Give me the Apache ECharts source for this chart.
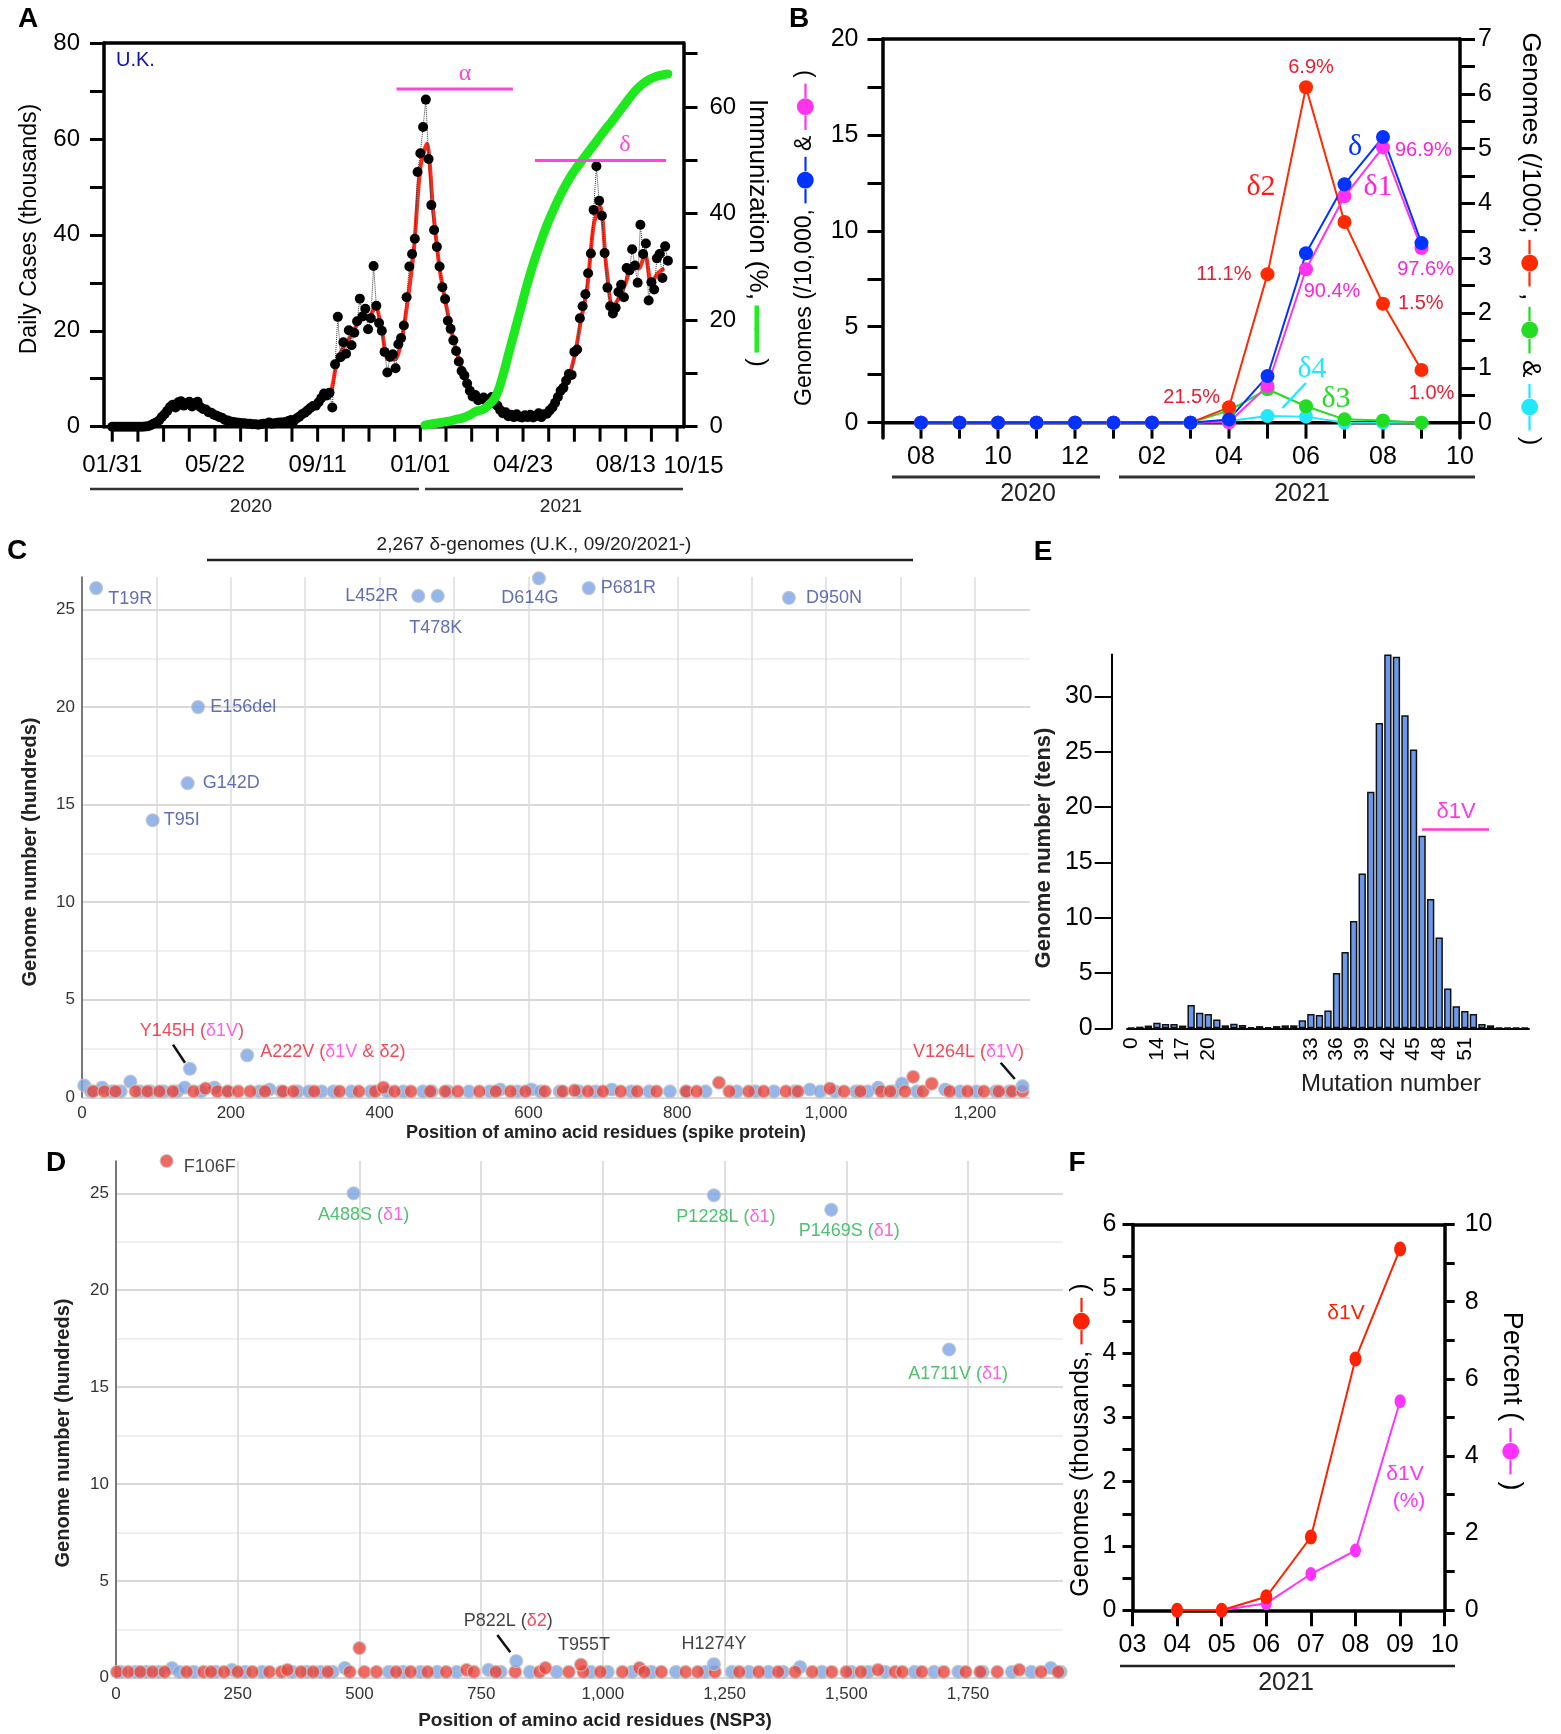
<!DOCTYPE html>
<html><head><meta charset="utf-8">
<script src="https://cdn.jsdelivr.net/npm/echarts@6/dist/echarts.min.js"></script>
<style>html,body{margin:0;padding:0;background:#fff}#c{width:1561px;height:1734px}</style>
</head><body><div id="c"></div>
<script>
// ================= DATA =================
// Panel A: U.K. daily cases (thousands), day index from 2020-01-31
const aDays = [0,3,6,9,12,15,18,21,24,27,30,33,36,39,42,45,48,51,54,57,60,63,66,69,72,75,78,81,84,87,90,93,96,99,102,105,108,111,114,117,120,123,126,129,132,135,138,141,144,147,150,153,156,159,162,165,168,171,174,177,180,183,186,189,192,195,198,201,204,207,210,213,216,219,222,225,228,231,234,237,240,243,246,249,252,255,258,261,264,267,270,273,276,279,282,285,288,291,294,297,300,303,306,309,312,315,318,321,324,327,330,333,336,339,342,345,348,351,354,357,360,363,366,369,372,375,378,381,384,387,390,393,396,399,402,405,408,411,414,417,420,423,426,429,432,435,438,441,444,447,450,453,456,459,462,465,468,471,474,477,480,483,486,489,492,495,498,501,504,507,510,513,516,519,522,525,528,531,534,537,540,543,546,549,552,555,558,561,564,567,570,573,576,579,582,585,588,591,594,597,600,603,606];
const aDailyCases = [
0,0,0,0,0,0,0,0,0,0,
0,0,0.05,0.1,0.3,0.6,0.9,1.3,2.0,2.6,
3.3,4.1,4.6,4.0,5.1,5.3,4.4,4.9,5.2,4.2,
4.9,5.2,4.1,3.7,3.6,3.0,2.9,2.5,2.3,2.0,
1.8,1.4,1.3,1.1,1.0,0.9,0.8,0.7,0.7,0.6,
0.6,0.5,0.5,0.4,0.5,0.6,0.6,0.9,0.6,0.7,
0.8,0.9,0.9,1.0,1.2,1.4,1.2,1.7,2.1,2.6,
2.9,3.4,3.9,4.3,4.4,5.1,6.0,6.9,6.5,7.1,
4.0,13.0,22.9,14.5,17.6,15.2,20.1,17.0,19.6,22.0,
26.7,23.0,24.6,20.3,22.6,33.5,25.2,21.6,20.0,15.6,
11.3,14.6,15.1,12.2,17.2,18.5,21.1,27.0,33.4,36.0,
39.2,53.1,57.0,62.5,68.2,55.8,46.2,41.0,37.5,33.4,
29.1,26.6,22.1,20.4,18.0,15.8,13.6,11.6,10.7,9.0,
7.5,6.3,6.6,5.5,5.8,6.1,5.3,5.6,6.2,4.8,
4.4,3.5,2.8,3.0,2.2,2.5,2.0,2.6,2.1,1.9,
2.4,2.0,2.5,1.9,2.2,2.8,2.0,2.6,2.7,3.4,
4.0,5.0,6.2,7.5,8.1,9.6,11.0,10.8,15.6,16.1,
22.6,25.1,27.6,32.0,36.1,45.2,54.3,47.1,44.0,36.2,
29.0,25.1,23.6,24.8,28.1,29.6,27.0,33.1,32.6,37.0,
33.6,30.0,42.1,36.0,38.2,26.3,30.1,28.6,35.1,36.0,
31.0,37.6,34.6];
const aAvgDays = [0,7,14,21,28,35,42,49,56,63,70,77,84,91,98,105,112,119,126,133,140,147,154,161,168,175,182,189,196,203,210,217,224,231,238,245,252,259,266,273,280,287,294,301,308,315,322,329,336,343,350,357,364,371,378,385,392,399,406,413,420,427,434,441,448,455,462,469,476,483,490,497,504,511,518,525,532,539,546,553,560,567,574,581,588,595,602];
const aAvgCases = [0,0,0,0,0,0,0.2,0.9,2.2,3.8, 4.6,4.8,4.8,4.6,3.8,3.0,2.4,1.9,1.3,1.0, 0.8,0.6,0.5,0.5,0.6,0.7,0.8,1.0,1.3,1.8, 2.8,3.8,4.5,6.3,7.0,13.5,16.5,18.5,21.0,23.5, 23.0,25.0,20.0,14.0,14.0,17.5,26.0,37.0,54.0,59.0, 45.0,33.0,25.5,19.0,14.0,10.5,7.5,6.0,5.6,5.5, 4.5,3.0,2.4,2.3,2.1,2.2,2.2,2.4,3.0,4.6, 7.2,10.0,14.5,22.0,29.0,42.0,46.0,33.0,25.0,27.0, 30.0,33.5,33.0,36.0,30.0,32.0,33.0];
const aImmDays = [341,348,355,362,369,376,383,390,397,404,411,418,425,432,439,446,453,460,467,474,481,488,495,502,509,516,523,530,537,544,551,558,565,572,579,586,593,600,606];
const aImmPct = [0.3,0.5,0.7,0.9,1.1,1.4,1.7,2.2,2.9,3.2,4.2,5.6,9.0,13.5,18.0,22.5,27.0,31.0,34.5,37.8,40.6,43.2,45.5,47.5,49.2,50.8,52.4,54.0,55.6,57.1,58.7,60.3,61.9,63.3,64.4,65.2,65.7,66.0,66.2];
const aTickDays = [0,28,56,84,112,140,168,196,224,252,280,308,336,364,392,420,448,476,504,532,560,588,616];
const aLabelDays = [0,112,224,336,448,560,623];
const aLabelText = ['01/31','05/22','09/11','01/01','04/23','08/13','10/15'];
const aVariantNames = ['α','δ'];
const aVariantStartDay = [310,461];
const aVariantEndDay = [437,604];
const aVariantLevel = [70.4,55.5];
const aYears = ['2020','2021'];

// Panel B: month index 0 = 2020-07
const bMonthIdx = [1,2,3,4,5,6,7,8,9,10,11,12,13,14];
const bDelta  = [0,0,0,0,0,0,0,0,0.17,2.43,8.83,12.43,14.89,9.36];
const bDelta1 = [0,0,0,0,0,0,0,0,0.02,1.91,8.0,11.8,14.35,9.1];
const bDelta2 = [0,0,0,0,0,0,0,0,0.28,2.71,6.12,3.66,2.17,0.96];
const bDelta3 = [0,0,0,0,0,0,0,0,0.22,0.61,0.30,0.06,0.04,0.0];
const bDelta4 = [0,0,0,0,0,0,0,0,0.03,0.12,0.11,0.0,0.0,0.0];
const bDelta2Pct = ['','','','','','','','','21.5%','11.1%','6.9%','','1.5%','1.0%'];
const bDelta1Pct = ['','','','','','','','','','','90.4%','','96.9%','97.6%'];
const bTickIdx = [1,2,3,4,5,6,7,8,9,10,11,12,13,14];
const bLabelIdx = [1,3,5,7,9,11,13,15];
const bLabelText = ['08','10','12','02','04','06','08','10'];

// Panel C: spike protein mutations
const cTitle = '2,267 δ-genomes (U.K., 09/20/2021-)';
const cLabelNames = ['T19R','T95I','G142D','Y145H','E156del','A222V','L452R','T478K','D614G','P681R','D950N','V1264L'];
const cLabelPositions = [19,95,142,145,156,222,452,478,614,681,950,1264];
const cLabelCounts = [26.1,14.2,16.1,1.46,20.0,2.15,25.7,25.7,26.6,26.1,25.6,0.57];
const cBlueBase = [[3,0.6],[12,0.3],[27,0.5],[40,0.3],[52,0.3],[65,0.8],[78,0.3],[92,0.3],[110,0.3],[128,0.3],[138,0.5],[160,0.3],[178,0.5],[196,0.3],[238,0.3],[252,0.4],[268,0.3],[290,0.3],[305,0.3],[322,0.3],[338,0.3],[362,0.3],[388,0.3],[410,0.3],[432,0.3],[458,0.3],[470,0.3],[492,0.3],[520,0.3],[548,0.3],[562,0.4],[585,0.3],[604,0.4],[616,0.3],[642,0.3],[668,0.3],[690,0.3],[712,0.4],[738,0.3],[762,0.3],[790,0.3],[812,0.3],[838,0.3],[880,0.3],[905,0.3],[930,0.3],[958,0.3],[978,0.4],[992,0.3],[1012,0.3],[1040,0.3],[1056,0.3],[1070,0.5],[1092,0.3],[1102,0.7],[1122,0.3],[1160,0.4],[1180,0.3],[1202,0.3],[1228,0.3],[1246,0.3]];
const cRedBase = [[15,0.3],[30,0.3],[45,0.3],[72,0.3],[88,0.3],[104,0.3],[122,0.3],[150,0.3],[166,0.45],[182,0.3],[196,0.3],[210,0.3],[226,0.3],[246,0.3],[270,0.3],[284,0.3],[312,0.3],[346,0.3],[372,0.3],[394,0.3],[405,0.5],[420,0.3],[442,0.3],[468,0.3],[488,0.3],[505,0.3],[534,0.3],[556,0.3],[576,0.3],[596,0.3],[622,0.3],[646,0.3],[662,0.35],[680,0.3],[700,0.3],[724,0.3],[746,0.3],[772,0.3],[812,0.3],[826,0.3],[856,0.75],[870,0.3],[896,0.3],[916,0.3],[946,0.3],[962,0.3],[1005,0.45],[1024,0.3],[1046,0.3],[1074,0.3],[1086,0.3],[1106,0.3],[1117,1.05],[1130,0.3],[1142,0.7],[1166,0.3],[1190,0.3],[1212,0.3],[1232,0.3],[1250,0.3],[1264,0.3]];
const cGridX = [0,100,200,300,400,500,600,700,800,900,1000,1100,1200];
const cLabelX = [0,200,400,600,800,1000,1200];

// Panel D: NSP3 mutations
const dLabelNames = ['F106F','A488S','P822L','T955T','P1228L','H1274Y','P1469S','A1711V'];
const dLabelPositions = [104,488,822,955,1228,1228,1469,1711];
const dLabelCounts = [26.67,25.0,0.86,0.67,24.9,0.7,24.15,16.94];
const dLabelKinds = ['red','blue','blue','red','blue','blue','blue','blue'];
const dBlueBase = [[10,0.3],[40,0.3],[62,0.3],[88,0.3],[115,0.5],[130,0.3],[160,0.3],[205,0.3],[238,0.4],[265,0.3],[300,0.3],[362,0.3],[392,0.3],[420,0.3],[445,0.3],[470,0.5],[560,0.3],[590,0.3],[625,0.3],[660,0.3],[700,0.3],[765,0.4],[790,0.3],[850,0.3],[905,0.3],[975,0.3],[1010,0.3],[1060,0.3],[1100,0.3],[1150,0.3],[1210,0.3],[1265,0.3],[1300,0.3],[1340,0.3],[1370,0.3],[1405,0.55],[1450,0.3],[1510,0.3],[1545,0.3],[1580,0.3],[1640,0.3],[1680,0.3],[1730,0.3],[1780,0.3],[1840,0.3],[1880,0.3],[1920,0.5],[1940,0.3]];
const dRedBase = [[2,0.3],[25,0.3],[50,0.3],[75,0.3],[100,0.3],[145,0.3],[180,0.3],[195,0.3],[222,0.3],[250,0.3],[280,0.3],[315,0.3],[340,0.3],[352,0.4],[380,0.3],[405,0.3],[435,0.3],[480,0.3],[500,1.53],[510,0.3],[535,0.3],[575,0.3],[605,0.3],[640,0.3],[678,0.3],[720,0.4],[735,0.3],[780,0.3],[820,0.3],[870,0.3],[882,0.5],[930,0.3],[960,0.3],[995,0.3],[1040,0.3],[1075,0.5],[1085,0.3],[1120,0.3],[1170,0.3],[1195,0.3],[1230,0.3],[1280,0.3],[1320,0.3],[1360,0.3],[1395,0.3],[1430,0.3],[1470,0.3],[1500,0.3],[1530,0.3],[1565,0.4],[1600,0.3],[1615,0.3],[1655,0.3],[1700,0.3],[1745,0.3],[1775,0.3],[1810,0.3],[1855,0.4],[1900,0.3],[1935,0.3]];
const dGridX = [0,250,500,750,1000,1250,1500,1750];
const cdGridY = [0,2.5,5,7.5,10,12.5,15,17.5,20,22.5,25];
const cdLabelY = [0,5,10,15,20,25];

// Panel E: mutation-number histogram (tens of genomes)
const eCategories = ['0','12','13','14','15','16','17','18','19','20','21','22','23','24','25','26','28','29','30','31','32','33','34','35','36','37','38','39','40','41','42','43','44','45','46','47','48','49','50','51','52','53','54','55','56','57','58'];
const eCounts = [0.05,0.15,0.25,0.5,0.4,0.4,0.25,2.1,1.4,1.3,0.8,0.27,0.42,0.3,0.1,0.2,0.1,0.2,0.27,0.27,0.72,1.3,1.2,1.6,5.0,6.9,9.7,14.0,21.4,27.6,33.8,33.6,28.3,25.2,17.4,11.7,8.2,3.6,2.0,1.56,1.3,0.4,0.27,0.05,0.05,0.05,0.05];
const eShownLabels = ['0','14','17','20','33','36','39','42','45','48','51'];
const eTicks = [0,5,10,15,20,25,30];

// Panel F: δ1V genomes (thousands) and percent
const fMonths = [4,5,6,7,8,9];
const fGenomesK = [0,0,0.21,1.14,3.91,5.62];
const fPercent = [0,0,0.18,0.94,1.55,5.42];

// ================= STYLE / HELPERS =================
const FF = "'Liberation Sans', Arial, sans-serif";
const SERIF = "'Liberation Serif', 'Times New Roman', serif";
const fnt = (s, w) => (w ? w + ' ' : '') + s + 'px ' + FF;
const zip = (xs, ys) => xs.map((x, i) => [x, ys[i]]);
const BLK = '#000';
const RED = '#ff2a00', BLUE = '#0033ff', MAG = '#ff33ee', GRN = '#22dd22', CYAN = '#22e8ff';
const DOT_BLUE = '#7ba4e6', DOT_RED = '#e8443a';
const LBL_BLUE = '#3a4ba0', LBL_RED = '#ee1c2e', LBL_MAG = '#ff38dd', LBL_GRN = '#1fb34a';

function frameAxis(w) { return {show: true, onZero: false, lineStyle: {color: BLK, width: w}}; }
const aLabelMap = {}; aLabelDays.forEach((d, i) => aLabelMap[d] = aLabelText[i]);
const bLabelMap = {}; bLabelIdx.forEach((d, i) => bLabelMap[d] = bLabelText[i]);
const fmtComma = v => Number(v).toLocaleString('en-US');

const bD2Place = {9: {position: 'left', distance: 2, offset: [0, -10]}, 10: {position: 'left', distance: 9}, 11: {position: 'top', distance: 3, offset: [5, 0]}, 13: {position: 'right', distance: 8}, 14: {position: 'bottom', distance: 6, offset: [10, 0]}};
const bD1Place = {11: {position: 'bottom', distance: 5, offset: [26, 0]}, 13: {position: 'right', distance: 5, offset: [0, 3]}, 14: {position: 'bottom', distance: 4, offset: [4, 0]}};

const cPlace = {
  T19R: {position: 'right', distance: 5, offset: [0, 11]},
  T95I: {position: 'right', distance: 4},
  G142D: {position: 'right', distance: 8},
  Y145H: {position: 'inside', offset: [2, -38]},
  E156del: {position: 'right', distance: 5},
  A222V: {position: 'right', distance: 6, offset: [0, -3]},
  L452R: {position: 'left', distance: 13},
  T478K: {position: 'inside', offset: [-2, 32]},
  D614G: {position: 'inside', offset: [-9, 20]},
  P681R: {position: 'right', distance: 5},
  D950N: {position: 'right', distance: 10},
  V1264L: {position: 'inside', offset: [-54, -34]}
};
const cText = {
  Y145H: '{r|Y145H (}{m|δ1V}{r|)}',
  A222V: '{r|A222V (}{m|δ1V}{r| & δ2)}',
  V1264L: '{r|V1264L (}{m|δ1V}{r|)}'
};
const dPlace = {
  F106F: {position: 'right', distance: 10, offset: [0, 6]},
  A488S: {position: 'inside', offset: [10, 22]},
  P822L: {position: 'inside', offset: [-8, -40]},
  T955T: {position: 'inside', offset: [3, -20]},
  P1228L: {position: 'inside', offset: [12, 22]},
  H1274Y: {position: 'inside', offset: [0, -20]},
  P1469S: {position: 'inside', offset: [18, 21]},
  A1711V: {position: 'inside', offset: [9, 25]}
};
const dText = {
  F106F: '{k|F106F}', A488S: '{g|A488S (}{m|δ1}{g|)}', P822L: '{k|P822L (}{r|δ2}{k|)}',
  T955T: '{k|T955T}', P1228L: '{g|P1228L (}{m|δ1}{g|)}', H1274Y: '{k|H1274Y}',
  P1469S: '{g|P1469S (}{m|δ1}{g|)}', A1711V: '{g|A1711V (}{m|δ1}{g|)}'
};
const labRich = {
  b: {color: LBL_BLUE, fontSize: 18, fontFamily: FF},
  r: {color: LBL_RED, fontSize: 18, fontFamily: FF},
  m: {color: LBL_MAG, fontSize: 18, fontFamily: FF},
  g: {color: LBL_GRN, fontSize: 18, fontFamily: FF},
  k: {color: '#111', fontSize: 18, fontFamily: FF}
};

// ================= SERIES =================
const series = [];
// A
series.push({type: 'line', xAxisIndex: 0, yAxisIndex: 0, data: zip(aAvgDays, aAvgCases), smooth: 0.3, showSymbol: false, lineStyle: {color: '#ff2a1a', width: 4}, z: 2, silent: true});
series.push({type: 'line', xAxisIndex: 0, yAxisIndex: 0, data: zip(aDays, aDailyCases), symbol: 'circle', symbolSize: 10, itemStyle: {color: '#000'}, lineStyle: {color: '#333', width: 1, type: 'dotted'}, z: 3, silent: true});
series.push({type: 'line', xAxisIndex: 0, yAxisIndex: 1, data: zip(aImmDays, aImmPct), smooth: true, showSymbol: false, lineStyle: {color: '#1ee81e', width: 9, cap: 'round'}, z: 4, silent: true});
aVariantNames.forEach((n, i) => {
  series.push({type: 'line', name: n, xAxisIndex: 0, yAxisIndex: 0, data: [[aVariantStartDay[i], aVariantLevel[i]], [aVariantEndDay[i], aVariantLevel[i]]], showSymbol: false, lineStyle: {color: '#ff44dd', width: 3}, z: 5, silent: true});
});
// B
function bSeries(vals, color, yIdx, pct, place, lblColor) {
  return {type: 'line', xAxisIndex: 2, yAxisIndex: yIdx, symbol: 'circle', symbolSize: 14,
    itemStyle: {color: color}, lineStyle: {color: color, width: 2},
    label: {fontSize: 20, fontFamily: FF, color: lblColor || color},
    data: vals.map((v, i) => {
      const item = {value: [bMonthIdx[i], v]};
      if (pct && pct[i]) item.label = Object.assign({show: true, formatter: pct[i]}, place[bMonthIdx[i]]);
      return item;
    }), silent: true, z: 3};
}
series.push(bSeries(bDelta4, CYAN, 3));
series.push(bSeries(bDelta3, GRN, 3));
series.push(bSeries(bDelta2, RED, 3, bDelta2Pct, bD2Place, LBL_RED));
series.push(bSeries(bDelta1, MAG, 2, bDelta1Pct, bD1Place, '#ff22dd'));
series.push(bSeries(bDelta, BLUE, 2));
// C
const dotStyle = c => ({color: c, borderColor: '#c4c4c4', borderWidth: 1.2});
series.push({type: 'scatter', xAxisIndex: 4, yAxisIndex: 4, data: cBlueBase, symbolSize: 13, itemStyle: dotStyle(DOT_BLUE), silent: true});
series.push({type: 'scatter', xAxisIndex: 4, yAxisIndex: 4, data: cRedBase, symbolSize: 13, itemStyle: dotStyle(DOT_RED), silent: true});
series.push({type: 'scatter', xAxisIndex: 4, yAxisIndex: 4, symbolSize: 13, itemStyle: dotStyle(DOT_BLUE), silent: true, z: 5,
  data: cLabelNames.map((n, i) => ({value: [cLabelPositions[i], cLabelCounts[i]], name: n,
    label: Object.assign({show: true, formatter: cText[n] || ('{b|' + n + '}'), rich: labRich, color: LBL_BLUE, textBorderWidth: 0}, cPlace[n])}))});
// D
series.push({type: 'scatter', xAxisIndex: 5, yAxisIndex: 5, data: dBlueBase, symbolSize: 13, itemStyle: dotStyle(DOT_BLUE), silent: true});
series.push({type: 'scatter', xAxisIndex: 5, yAxisIndex: 5, data: dRedBase, symbolSize: 13, itemStyle: dotStyle(DOT_RED), silent: true});
series.push({type: 'scatter', xAxisIndex: 5, yAxisIndex: 5, symbolSize: 13, silent: true, z: 5,
  data: dLabelNames.map((n, i) => ({value: [dLabelPositions[i], dLabelCounts[i]], name: n,
    itemStyle: dotStyle(dLabelKinds[i] === 'red' ? DOT_RED : DOT_BLUE),
    label: Object.assign({show: true, formatter: dText[n], rich: labRich, color: '#111', textBorderWidth: 0}, dPlace[n])}))});
// E
series.push({type: 'bar', xAxisIndex: 6, yAxisIndex: 6, data: eCounts, barCategoryGap: '14%', itemStyle: {color: '#6b98ea', borderColor: '#111', borderWidth: 1.5}, silent: true});
// F
series.push({type: 'line', xAxisIndex: 7, yAxisIndex: 8, data: zip(fMonths, fPercent), symbol: 'circle', symbolSize: [11, 14], itemStyle: {color: '#ff33ff'}, lineStyle: {color: '#ff33ff', width: 2}, silent: true});
series.push({type: 'line', xAxisIndex: 7, yAxisIndex: 7, data: zip(fMonths, fGenomesK), symbol: 'circle', symbolSize: [12, 15], itemStyle: {color: '#ff2200'}, lineStyle: {color: '#ff2200', width: 2}, silent: true});

// ================= AXES =================
const blackTick = (vals, len, w) => ({show: true, customValues: vals, length: len, lineStyle: {color: BLK, width: w}});
const xAxis = [
  {gridIndex: 0, type: 'value', min: -9, max: 623, axisLine: {show: false, onZero: false}, axisTick: {show: false, customValues: aTickDays},
    axisLabel: {customValues: aLabelDays.slice(0, -1), formatter: v => aLabelMap[v], fontSize: 24, color: BLK, margin: 27, showMaxLabel: true, showMinLabel: true}, splitLine: {show: false}},
  {gridIndex: 0, type: 'value', position: 'top', min: -9, max: 623, axisLine: frameAxis(3.5), axisTick: {show: false}, axisLabel: {show: false}, splitLine: {show: false}},
  {gridIndex: 1, type: 'value', min: 0, max: 15, axisLine: {show: false, onZero: false}, axisTick: {show: false, customValues: bTickIdx},
    axisLabel: {customValues: bLabelIdx, formatter: v => bLabelMap[v], fontSize: 25, color: BLK, margin: 7, showMaxLabel: true, showMinLabel: true}, splitLine: {show: false}},
  {gridIndex: 1, type: 'value', position: 'top', min: 0, max: 15, axisLine: frameAxis(3.5), axisTick: {show: false}, axisLabel: {show: false}, splitLine: {show: false}},
  {gridIndex: 2, type: 'value', min: 0, max: 1274, axisLine: {show: false}, axisTick: {show: false, customValues: cGridX},
    axisLabel: {customValues: cLabelX, formatter: fmtComma, fontSize: 17, color: '#333', margin: 8}, splitLine: {show: true, lineStyle: {color: '#dcdcdc', width: 1.5}}},
  {gridIndex: 3, type: 'value', min: 0, max: 1945, axisLine: {show: false}, axisTick: {show: false, customValues: dGridX},
    axisLabel: {customValues: dGridX, formatter: fmtComma, fontSize: 17, color: '#333', margin: 8}, splitLine: {show: true, lineStyle: {color: '#d6d6d6', width: 1.5}}},
  {gridIndex: 4, type: 'category', data: eCategories, axisLine: {show: true, lineStyle: {color: BLK, width: 2}}, axisTick: {show: false},
    axisLabel: {interval: (i, v) => eShownLabels.includes(v), rotate: 90, fontSize: 21, color: BLK, margin: 9}},
  {gridIndex: 5, type: 'value', min: 3, max: 10, interval: 1, axisLine: frameAxis(3.5), axisTick: {show: true, length: 16, lineStyle: {color: BLK, width: 3}},
    axisLabel: {formatter: v => String(v).padStart(2, '0'), fontSize: 25, color: BLK, margin: 22}, splitLine: {show: false}},
  {gridIndex: 5, type: 'value', position: 'top', min: 3, max: 10, axisLine: frameAxis(3.5), axisTick: {show: false}, axisLabel: {show: false}, splitLine: {show: false}}
];
const yAxis = [
  {gridIndex: 0, type: 'value', min: 0, max: 80, axisLine: frameAxis(3.5), axisTick: blackTick([0,10,20,30,40,50,60,70,80], 14, 3),
    axisLabel: {customValues: [0,20,40,60,80], fontSize: 24, color: BLK, margin: 24}, splitLine: {show: false}},
  {gridIndex: 0, type: 'value', position: 'right', min: 0, max: 72, axisLine: frameAxis(3.5), axisTick: blackTick([0,10,20,30,40,50,60,70], 14, 3),
    axisLabel: {customValues: [0,20,40,60], fontSize: 24, color: BLK, margin: 26}, splitLine: {show: false}},
  {gridIndex: 1, type: 'value', min: -0.8, max: 20, axisLine: frameAxis(3.5), axisTick: blackTick([0,2.5,5,7.5,10,12.5,15,17.5,20], 15, 3),
    axisLabel: {customValues: [0,5,10,15,20], fontSize: 25, color: BLK, margin: 24}, splitLine: {show: false}},
  {gridIndex: 1, type: 'value', position: 'right', min: -0.28, max: 7, axisLine: frameAxis(3.5), axisTick: blackTick([0,0.5,1,1.5,2,2.5,3,3.5,4,4.5,5,5.5,6,6.5,7], 15, 3),
    axisLabel: {customValues: [0,1,2,3,4,5,6,7], fontSize: 25, color: BLK, margin: 18}, splitLine: {show: false}},
  {gridIndex: 2, type: 'value', min: 0, max: 26.67, axisLine: {show: true, onZero: false, lineStyle: {color: '#555', width: 1.5}}, axisTick: {show: false, customValues: cdGridY},
    axisLabel: {customValues: cdLabelY, fontSize: 17, color: '#333', margin: 7}, splitLine: {show: true, lineStyle: {color: ['#cdcdcd', '#ebebeb'], width: 1.5}}},
  {gridIndex: 3, type: 'value', min: 0, max: 26.67, axisLine: {show: true, onZero: false, lineStyle: {color: '#555', width: 1.5}}, axisTick: {show: false, customValues: cdGridY},
    axisLabel: {customValues: cdLabelY, fontSize: 17, color: '#333', margin: 7}, splitLine: {show: true, lineStyle: {color: ['#cdcdcd', '#ebebeb'], width: 1.5}}},
  {gridIndex: 4, type: 'value', min: 0, max: 33.8, offset: 15.3, axisLine: {show: true, onZero: false, lineStyle: {color: BLK, width: 2}}, axisTick: blackTick(eTicks, 17, 2),
    axisLabel: {customValues: eTicks, fontSize: 25, color: BLK, margin: 19}, splitLine: {show: false}},
  {gridIndex: 5, type: 'value', min: 0, max: 6, axisLine: frameAxis(3.5), axisTick: blackTick([0,0.5,1,1.5,2,2.5,3,3.5,4,4.5,5,5.5,6], 10, 3),
    axisLabel: {customValues: [0,1,2,3,4,5,6], fontSize: 25, color: BLK, margin: 16}, splitLine: {show: false}},
  {gridIndex: 5, type: 'value', position: 'right', min: 0, max: 10, axisLine: frameAxis(3.5), axisTick: blackTick([0,1,2,3,4,5,6,7,8,9,10], 10, 3),
    axisLabel: {customValues: [0,2,4,6,8,10], fontSize: 25, color: BLK, margin: 20}, splitLine: {show: false}}
];

// ================= GRAPHIC (titles, annotations) =================
function gText(x, y, text, font, fill, rotation, extra) {
  return {type: 'text', x: x, y: y, rotation: rotation || 0, silent: true, z: 100,
    style: Object.assign({text: text, font: font, fill: fill || BLK, textAlign: 'center', textVerticalAlign: 'middle'}, extra || {})};
}
function gLine(x1, y1, x2, y2, color, w, z) {
  return {type: 'line', silent: true, z: z == null ? 100 : z, shape: {x1: x1, y1: y1, x2: x2, y2: y2}, style: {stroke: color, lineWidth: w}};
}
const richSym = {};
function sym(key, color) {
  richSym[key + 'l'] = {font: '13px ' + FF, fill: color, stroke: color, lineWidth: 1.3};
  richSym[key + 'd'] = {font: "22px 'DejaVu Sans', sans-serif", fill: color};
  return '{' + key + 'l|—}{' + key + 'd|●}{' + key + 'l|—}';
}
const PI2 = Math.PI / 2;
const elements = [
  gText(28, 19, 'A', fnt(28, 'bold')), gText(799, 19, 'B', fnt(28, 'bold')), gText(17, 551, 'C', fnt(28, 'bold')),
  gText(56, 1163, 'D', fnt(28, 'bold')), gText(1043, 552, 'E', fnt(28, 'bold')), gText(1077, 1163, 'F', fnt(28, 'bold')),
  // A
  gText(116, 60, 'U.K.', fnt(20), '#1212b0', 0, {textAlign: 'left'}),
  gText(465, 74, aVariantNames[0], '24px ' + SERIF, '#ff44dd'),
  gText(625, 145, aVariantNames[1], '24px ' + SERIF, '#ff44dd'),
  gText(30, 229, 'Daily Cases (thousands)', fnt(23), BLK, PI2),
  gText(757, 233, 'Immunization (%, {gl|——} )', fnt(26), BLK, -PI2, {rich: {gl: {font: '22px ' + FF, fill: '#22ee22', stroke: '#22ee22', lineWidth: 3}}}),
  gLine(90, 489, 419, 489, '#333', 2.5), gLine(425, 489, 683, 489, '#333', 2.5),
  gText(251, 507, aYears[0], fnt(19), '#222'), gText(561, 507, aYears[1], fnt(19), '#222'),
  // B
  gText(805, 238, 'Genomes (/10,000, ' + sym('bb', BLUE) + ' & ' + sym('bm', MAG) + ' )', fnt(23), BLK, PI2, {rich: richSym}),
  gText(1530, 239, 'Genomes (/1000; ' + sym('br', RED) + ' , ' + sym('bg', GRN) + ' & ' + sym('bc', CYAN) + ' )', fnt(26), BLK, -PI2, {rich: richSym}),
  gLine(892, 477, 1100, 477, '#333', 3), gLine(1119, 477, 1475, 477, '#333', 3),
  gText(1028, 494, aYears[0], fnt(25), '#222'), gText(1302, 494, aYears[1], fnt(25), '#222'),
  gText(1261, 187, 'δ2', '30px ' + SERIF, '#ff1a1a'),
  gText(1355, 147, 'δ', '30px ' + SERIF, BLUE),
  gText(1378, 187, 'δ1', '30px ' + SERIF, '#ff22dd'),
  gText(1312, 369, 'δ4', '30px ' + SERIF, CYAN),
  gText(1336, 399, 'δ3', '30px ' + SERIF, GRN),
  gLine(1306, 383, 1282.5, 408, CYAN, 2.5),
  // C
  gText(534, 545, cTitle, fnt(19), '#222'),
  gLine(207, 560, 913, 560, '#222', 2.5),
  gText(606, 1133, 'Position of amino acid residues (spike protein)', fnt(18, 'bold'), '#222'),
  gText(30, 852, 'Genome number (hundreds)', fnt(20, 'bold'), '#222', PI2),
  gLine(173, 1044.6, 185, 1062.7, '#111', 2.5),
  gLine(1000.7, 1062.7, 1014.8, 1079, '#111', 2.5),
  // D
  gText(595, 1721, 'Position of amino acid residues (NSP3)', fnt(19, 'bold'), '#222'),
  gText(63, 1433, 'Genome number (hundreds)', fnt(20, 'bold'), '#222', PI2),
  gLine(497.3, 1635, 510.3, 1652.2, '#111', 2.5),
  // E
  gText(1044, 848, 'Genome number (tens)', fnt(22, 'bold'), '#222', PI2),
  gText(1391, 1084, 'Mutation number', fnt(24), '#222'),
  gText(1456, 812, 'δ1V', fnt(22), '#ff38dd'),
  gLine(1422, 829.5, 1489, 829.5, '#ff38dd', 2.5),
  // F
  gText(1081, 1440, 'Genomes (thousands, ' + sym('fr', '#ff2200') + ' )', fnt(25), BLK, PI2, {rich: richSym}),
  gText(1511, 1401, 'Percent ( ' + sym('fm', '#ff33ff') + ' )', fnt(27), BLK, -PI2, {rich: richSym}),
  gText(1346, 1313, 'δ1V', fnt(21), '#ff2200'),
  gText(1405, 1474, 'δ1V', fnt(21), '#ff33ff'),
  gText(1409, 1501, '(%)', fnt(21), '#ff33ff'),
  gLine(1120, 1666, 1455, 1666, '#222', 2.5),
  gText(1286, 1683, '2021', fnt(25), '#222')
];

const option = {
  animation: false,
  backgroundColor: '#fff',
  textStyle: {fontFamily: FF},
  grid: [
    {left: 104, top: 43, width: 579.5, height: 383.7},
    {left: 882.5, top: 39, width: 577.5, height: 399},
    {left: 82, top: 577, width: 948, height: 520.3},
    {left: 116, top: 1161, width: 947, height: 516.7},
    {left: 1127, top: 654.5, width: 402, height: 373.8},
    {left: 1132.5, top: 1224.5, width: 312.2, height: 385.8}
  ],
  xAxis: xAxis,
  yAxis: yAxis,
  series: series
};
const chart = echarts.init(document.getElementById('c'), null, {renderer: 'canvas', width: 1561, height: 1734});
chart.setOption(option);

// bottom axis lines, ticks and the last date label of A and B placed through the library's scale conversion
const px = (xi, yi, v) => chart.convertToPixel({xAxisIndex: xi, yAxisIndex: yi}, v);
const axisEls = [];
const a0 = px(0, 0, [-9, 0]), a1 = px(0, 0, [623, 0]);
axisEls.push(gLine(a0[0] - 1.5, a0[1], a1[0] + 1.5, a1[1], BLK, 3.5, 1));
aTickDays.forEach(d => { const p = px(0, 0, [d, 0]); axisEls.push(gLine(p[0], p[1], p[0], p[1] + 15, BLK, 3, 1)); });
const aLast = px(0, 0, [aLabelDays[aLabelDays.length - 1], 0]);
axisEls.push(gText(aLast[0] + 10, aLast[1] + 40, aLabelText[aLabelText.length - 1], fnt(24), BLK));
const b0 = px(2, 2, [0, 0]), b1 = px(2, 2, [15, 0]);
axisEls.push(gLine(b0[0], b0[1], b1[0], b1[1], BLK, 3.5, 1));
bTickIdx.forEach(m => { const p = px(2, 2, [m, 0]); axisEls.push(gLine(p[0], p[1], p[0], p[1] + 16, BLK, 3, 1)); });
chart.setOption({graphic: {elements: elements.concat(axisEls)}});
</script></body></html>
